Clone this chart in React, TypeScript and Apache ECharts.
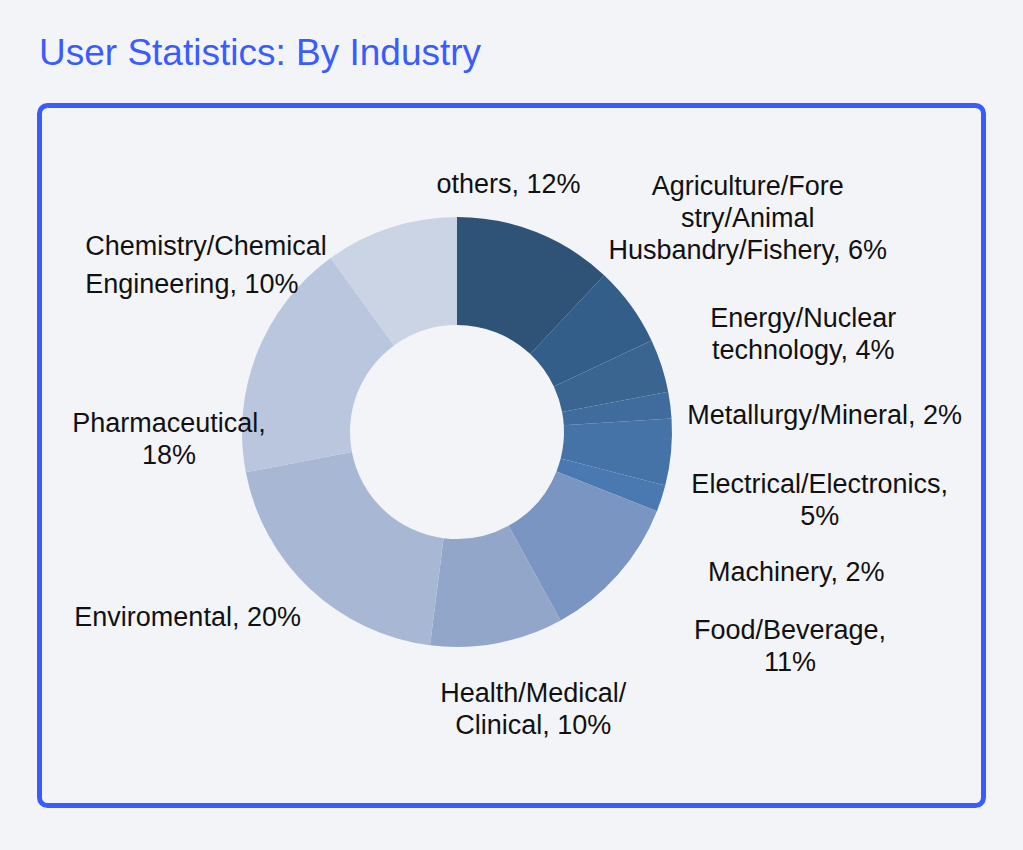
import React, { useEffect, useRef } from "react";
import * as echarts from "echarts";

const titleText = "User Statistics: By Industry";

const categories = [
  "Agriculture/Forestry/Animal Husbandry/Fishery",
  "Energy/Nuclear technology",
  "Metallurgy/Mineral",
  "Electrical/Electronics",
  "Machinery",
  "Food/Beverage",
  "Health/Medical/Clinical",
  "Enviromental",
  "Pharmaceutical",
  "Chemistry/Chemical Engineering",
  "others",
];

const values = [6, 4, 2, 5, 2, 11, 10, 20, 18, 10, 12];

// Label texts as wrapped in the reference
const labelTexts = [
  "Agriculture/Fore\nstry/Animal\nHusbandry/Fishery, 6%",
  "Energy/Nuclear\ntechnology, 4%",
  "Metallurgy/Mineral, 2%",
  "Electrical/Electronics,\n5%",
  "Machinery, 2%",
  "Food/Beverage,\n11%",
  "Health/Medical/\nClinical, 10%",
  "Enviromental, 20%",
  "Pharmaceutical,\n18%",
  "Chemistry/Chemical\nEngineering, 10%",
  "others, 12%",
];

const colors = [
  "#345e8a",
  "#3b6591",
  "#3f6c9d",
  "#4573a7",
  "#4a79b1",
  "#7a95c1",
  "#92a6c9",
  "#a8b8d4",
  "#b9c6de",
  "#cad4e4",
  "#2f5377",
];

// label nudges (px) from the point at LABEL_R along each slice's mid-angle
const labelNudge: [number, number][] = [
  [48, -38],
  [61, -5],
  [70, 21],
  [64, 40],
  [54, 47],
  [108, 16],
  [20, -18],
  [-64, -34],
  [-9, 117],
  [-279, 118],
  [-59, 31],
];
const labelAlign = ["center", "center", "center", "center", "center", "center", "center", "center", "center", "left", "center"];

const FONT = "'Liberation Sans', Arial, Helvetica, sans-serif";
const CX = 457;
const CY = 432;
const R_IN = 107;
const R_OUT = 215;
const LABEL_R = 300;
const START_CLOCKWISE_FROM_TOP = 43.2; // degrees

export default function App() {
  const ref = useRef<HTMLDivElement>(null);

  useEffect(() => {
    if (!ref.current) return;
    const chart = echarts.init(ref.current, undefined, { renderer: "svg" });

    const total = values.reduce((a, b) => a + b, 0);
    const midAngles: number[] = [];
    let acc = START_CLOCKWISE_FROM_TOP;
    values.forEach((v) => {
      const span = (v / total) * 360;
      midAngles.push(acc + span / 2);
      acc += span;
    });

    const option = {
      animation: false,
      backgroundColor: "#f3f4f8",
      title: {
        text: titleText,
        left: 34,
        top: 29,
        textStyle: {
          color: "#3a5cff",
          fontSize: 37,
          fontWeight: "normal",
          fontFamily: FONT,
        },
      },
      graphic: [
        {
          type: "rect",
          shape: { x: 39.5, y: 105.5, width: 944, height: 700, r: 8 },
          style: { fill: "none", stroke: "#3a5cff", lineWidth: 5 },
          z: -1,
        },
      ],
      series: [
        {
          type: "pie",
          center: [CX, CY],
          radius: [R_IN, R_OUT],
          startAngle: 90 - START_CLOCKWISE_FROM_TOP,
          clockwise: true,
          avoidLabelOverlap: false,
          data: categories.map((name, i) => ({
            name,
            value: values[i],
            itemStyle: { color: colors[i] },
          })),
          label: {
            show: true,
            position: "outside",
            formatter: (p: any) => {
              const key = labelAlign[p.dataIndex] === "left" ? "l" : "c";
              return labelTexts[p.dataIndex]
                .split("\n")
                .map((l) => `{${key}|${l}}`)
                .join("\n");
            },
            rich: {
              c: {
                align: "center",
                fontSize: 27,
                lineHeight: 32,
                color: "#111111",
                fontFamily: FONT,
              },
              l: {
                align: "left",
                fontSize: 27,
                lineHeight: 38,
                color: "#111111",
                fontFamily: FONT,
              },
            },
          },
          labelLine: { show: false, length: 25, length2: 10 },
          labelLayout: (params: any) => {
            const i = params.dataIndex;
            const a = (midAngles[i] * Math.PI) / 180;
            const bx = CX + LABEL_R * Math.sin(a);
            const by = CY - LABEL_R * Math.cos(a);
            return {
              x: bx + labelNudge[i][0],
              y: by + labelNudge[i][1],
              align: labelAlign[i],
              verticalAlign: "middle",
            };
          },
        },
      ],
    };
    chart.setOption(option as any);
    return () => chart.dispose();
  }, []);

  return (
    <div
      ref={ref}
      style={{ position: "fixed", left: 0, top: 0, width: 1023, height: 850 }}
    />
  );
}
